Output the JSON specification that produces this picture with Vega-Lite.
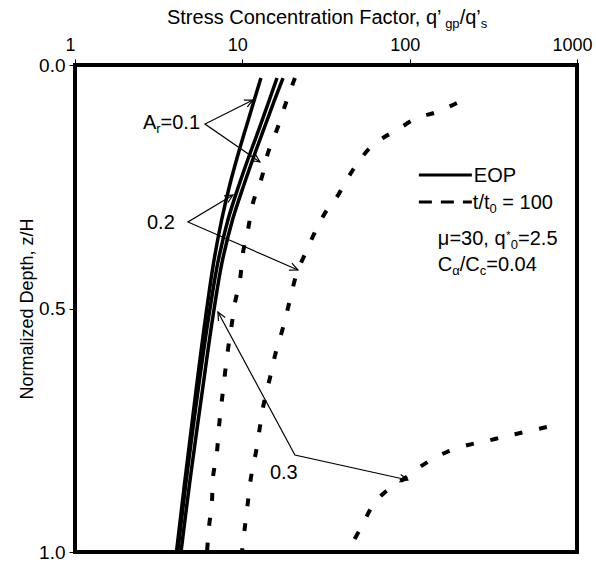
{
  "$schema": "https://vega.github.io/schema/vega-lite/v6.json",
  "width": 502,
  "height": 487,
  "autosize": {"type": "none"},
  "padding": {"left": 75, "top": 65, "right": 19, "bottom": 17},
  "background": "white",
  "config": {
    "font": "Liberation Sans",
    "view": {"stroke": "black", "strokeWidth": 4},
    "axis": {
      "grid": false,
      "domain": false,
      "tickColor": "black",
      "tickWidth": 1,
      "tickSize": 6,
      "labelColor": "black",
      "titleColor": "black",
      "labelFont": "Liberation Sans",
      "titleFont": "Liberation Sans",
      "labelFontSize": 19,
      "titleFontSize": 18,
      "titleFontWeight": "normal"
    }
  },
  "datasets": {
    "eop": [
      {"c": "0.1", "z": 0.0267, "q": 12.91}, {"c": "0.1", "z": 0.078, "q": 11.64}, {"c": "0.1", "z": 0.1273, "q": 10.54},
      {"c": "0.1", "z": 0.1807, "q": 9.48}, {"c": "0.1", "z": 0.2464, "q": 8.41}, {"c": "0.1", "z": 0.3183, "q": 7.52},
      {"c": "0.1", "z": 0.4066, "q": 6.73}, {"c": "0.1", "z": 0.4969, "q": 6.15}, {"c": "0.1", "z": 0.5708, "q": 5.75},
      {"c": "0.1", "z": 0.6612, "q": 5.32}, {"c": "0.1", "z": 0.7433, "q": 4.97}, {"c": "0.1", "z": 0.8665, "q": 4.49},
      {"c": "0.1", "z": 1.0, "q": 4.04},
      {"c": "0.2", "z": 0.0267, "q": 16.11}, {"c": "0.2", "z": 0.078, "q": 14.29}, {"c": "0.2", "z": 0.1273, "q": 12.71},
      {"c": "0.2", "z": 0.1807, "q": 11.14}, {"c": "0.2", "z": 0.2464, "q": 9.55}, {"c": "0.2", "z": 0.3183, "q": 8.2},
      {"c": "0.2", "z": 0.4066, "q": 7.13}, {"c": "0.2", "z": 0.4969, "q": 6.43}, {"c": "0.2", "z": 0.5708, "q": 5.96},
      {"c": "0.2", "z": 0.6612, "q": 5.47}, {"c": "0.2", "z": 0.7433, "q": 5.08}, {"c": "0.2", "z": 0.8665, "q": 4.57},
      {"c": "0.2", "z": 1.0, "q": 4.11},
      {"c": "0.3", "z": 0.0267, "q": 17.5}, {"c": "0.3", "z": 0.078, "q": 15.35}, {"c": "0.3", "z": 0.1273, "q": 13.58},
      {"c": "0.3", "z": 0.1807, "q": 11.91}, {"c": "0.3", "z": 0.2464, "q": 10.21}, {"c": "0.3", "z": 0.3183, "q": 8.73},
      {"c": "0.3", "z": 0.4066, "q": 7.55}, {"c": "0.3", "z": 0.4969, "q": 6.81}, {"c": "0.3", "z": 0.5708, "q": 6.32},
      {"c": "0.3", "z": 0.6612, "q": 5.81}, {"c": "0.3", "z": 0.7433, "q": 5.38}, {"c": "0.3", "z": 0.8665, "q": 4.81},
      {"c": "0.3", "z": 1.0, "q": 4.3}
    ],
    "t100": [
      {"c": "0.1", "z": 0.0267, "q": 20.62}, {"c": "0.1", "z": 0.0719, "q": 18.47}, {"c": "0.1", "z": 0.1273, "q": 16.31},
      {"c": "0.1", "z": 0.1807, "q": 14.22}, {"c": "0.1", "z": 0.23, "q": 13.09}, {"c": "0.1", "z": 0.2834, "q": 11.57},
      {"c": "0.1", "z": 0.3388, "q": 10.8}, {"c": "0.1", "z": 0.386, "q": 10.08}, {"c": "0.1", "z": 0.4415, "q": 9.68},
      {"c": "0.1", "z": 0.4887, "q": 9.03}, {"c": "0.1", "z": 0.5298, "q": 8.67}, {"c": "0.1", "z": 0.5852, "q": 8.2},
      {"c": "0.1", "z": 0.6879, "q": 7.55}, {"c": "0.1", "z": 0.7433, "q": 7.25}, {"c": "0.1", "z": 0.7947, "q": 7.05},
      {"c": "0.1", "z": 0.848, "q": 6.67}, {"c": "0.1", "z": 0.8973, "q": 6.58}, {"c": "0.1", "z": 0.9487, "q": 6.32},
      {"c": "0.1", "z": 1.0, "q": 6.15},
      {"c": "0.2", "z": 0.078, "q": 191.4}, {"c": "0.2", "z": 0.0965, "q": 145.4}, {"c": "0.2", "z": 0.1088, "q": 110.4},
      {"c": "0.2", "z": 0.1335, "q": 83.87}, {"c": "0.2", "z": 0.1499, "q": 69.17}, {"c": "0.2", "z": 0.1704, "q": 57.85},
      {"c": "0.2", "z": 0.1951, "q": 50.41}, {"c": "0.2", "z": 0.2156, "q": 45.78}, {"c": "0.2", "z": 0.2423, "q": 41.02},
      {"c": "0.2", "z": 0.271, "q": 36.74}, {"c": "0.2", "z": 0.2977, "q": 32.02}, {"c": "0.2", "z": 0.3347, "q": 27.9},
      {"c": "0.2", "z": 0.3799, "q": 24.32}, {"c": "0.2", "z": 0.4271, "q": 21.2}, {"c": "0.2", "z": 0.4825, "q": 19.25},
      {"c": "0.2", "z": 0.54, "q": 17.48}, {"c": "0.2", "z": 0.5893, "q": 15.87}, {"c": "0.2", "z": 0.6427, "q": 14.62},
      {"c": "0.2", "z": 0.694, "q": 13.46}, {"c": "0.2", "z": 0.7433, "q": 12.74}, {"c": "0.2", "z": 0.7947, "q": 12.06},
      {"c": "0.2", "z": 0.848, "q": 11.25}, {"c": "0.2", "z": 0.8973, "q": 10.8}, {"c": "0.2", "z": 0.9487, "q": 10.36},
      {"c": "0.2", "z": 1.0, "q": 9.95},
      {"c": "0.3", "z": 0.7433, "q": 660.2}, {"c": "0.3", "z": 0.7536, "q": 487.7}, {"c": "0.3", "z": 0.7618, "q": 380.7},
      {"c": "0.3", "z": 0.7721, "q": 289.2}, {"c": "0.3", "z": 0.7803, "q": 222.7}, {"c": "0.3", "z": 0.7947, "q": 166.9},
      {"c": "0.3", "z": 0.809, "q": 137.6}, {"c": "0.3", "z": 0.8255, "q": 115.1}, {"c": "0.3", "z": 0.8439, "q": 97.54},
      {"c": "0.3", "z": 0.8624, "q": 81.54}, {"c": "0.3", "z": 0.8809, "q": 69.17}, {"c": "0.3", "z": 0.9076, "q": 59.45},
      {"c": "0.3", "z": 0.9425, "q": 52.54}, {"c": "0.3", "z": 0.9836, "q": 45.15}
    ],
    "arrows": [
      {"a": "r1", "k": 1, "q": 11.57, "z": 0.0719}, {"a": "r1", "k": 2, "q": 5.979, "z": 0.1211}, {"a": "r1", "k": 3, "q": 12.74, "z": 0.1992},
      {"a": "r1h1", "k": 1, "q": 10.22, "z": 0.0723}, {"a": "r1h1", "k": 2, "q": 11.57, "z": 0.0719}, {"a": "r1h1", "k": 3, "q": 10.71, "z": 0.0862},
      {"a": "r1h2", "k": 1, "q": 11.97, "z": 0.1832}, {"a": "r1h2", "k": 2, "q": 12.74, "z": 0.1992}, {"a": "r1h2", "k": 3, "q": 11.27, "z": 0.1961},
      {"a": "r2", "k": 1, "q": 8.786, "z": 0.2669}, {"a": "r2", "k": 2, "q": 4.732, "z": 0.3224}, {"a": "r2", "k": 3, "q": 21.49, "z": 0.4209},
      {"a": "r2h1", "k": 1, "q": 7.775, "z": 0.2688}, {"a": "r2h1", "k": 2, "q": 8.786, "z": 0.2669}, {"a": "r2h1", "k": 3, "q": 8.204, "z": 0.2823},
      {"a": "r2h2", "k": 1, "q": 19.78, "z": 0.407}, {"a": "r2h2", "k": 2, "q": 21.49, "z": 0.4209}, {"a": "r2h2", "k": 3, "q": 18.98, "z": 0.4214},
      {"a": "r3", "k": 1, "q": 7.149, "z": 0.5072}, {"a": "r3", "k": 2, "q": 20.62, "z": 0.8008}, {"a": "r3", "k": 3, "q": 97.54, "z": 0.8522},
      {"a": "r3h1", "k": 1, "q": 7.199, "z": 0.5257}, {"a": "r3h1", "k": 2, "q": 7.149, "z": 0.5072}, {"a": "r3h1", "k": 3, "q": 7.894, "z": 0.5183},
      {"a": "r3h2", "k": 1, "q": 88.48, "z": 0.8409}, {"a": "r3h2", "k": 2, "q": 97.54, "z": 0.8522}, {"a": "r3h2", "k": 3, "q": 86.45, "z": 0.8563}
    ],
    "keySolid": [
      {"q": 113.5, "z": 0.2259}, {"q": 235.3, "z": 0.2259}
    ],
    "keyDashed": [
      {"q": 113.5, "z": 0.2813}, {"q": 235.3, "z": 0.2813}
    ],
    "texts": [
      {"t": "Stress Concentration Factor, q’", "q": 3.545, "z": -0.0842},
      {"t": "/q’", "q": 198.9, "z": -0.0842},
      {"t": "A", "q": 2.548, "z": 0.1314},
      {"t": "=0.1", "q": 3.246, "z": 0.1314},
      {"t": "0.2", "q": 2.692, "z": 0.3368},
      {"t": "0.3", "q": 14.62, "z": 0.8501},
      {"t": "EOP", "q": 241.8, "z": 0.2402},
      {"t": "t/t", "q": 238.5, "z": 0.2957},
      {"t": "= 100", "q": 357.9, "z": 0.2957},
      {"t": "μ=30, q", "q": 147.4, "z": 0.3696},
      {"t": "=2.5", "q": 444.3, "z": 0.3696},
      {"t": "C", "q": 147.4, "z": 0.423},
      {"t": "/C", "q": 199.2, "z": 0.423},
      {"t": "=0.04", "q": 286.8, "z": 0.423}
    ],
    "subs": [
      {"t": "gp", "q": 162.9, "z": -0.076},
      {"t": "s", "q": 265.9, "z": -0.076},
      {"t": "r", "q": 3.059, "z": 0.1396},
      {"t": "0", "q": 300.2, "z": 0.3039},
      {"t": "0", "q": 402.3, "z": 0.3778},
      {"t": "α", "q": 179.7, "z": 0.4312},
      {"t": "c", "q": 262.3, "z": 0.4312}
    ],
    "sups": [
      {"t": "*", "q": 378.2, "z": 0.3581}
    ]
  },
  "encoding": {
    "x": {
      "field": "q",
      "type": "quantitative",
      "scale": {"type": "log", "domain": [1, 1000], "nice": false},
      "axis": {"orient": "top", "title": null, "values": [1, 10, 100, 1000], "format": "d", "labelFlush": false, "labelPadding": 5, "labelOffset": -5, "labelFontSize": 18}
    },
    "y": {
      "field": "z",
      "type": "quantitative",
      "scale": {"domain": [0, 1], "reverse": true, "nice": false, "zero": false},
      "axis": {"title": "Normalized Depth, z/H", "values": [0, 0.5, 1], "format": ".1f", "labelPadding": 4, "titlePadding": 2}
    }
  },
  "layer": [
    {
      "data": {"name": "eop"},
      "mark": {"type": "line", "color": "black", "strokeWidth": 3.5, "interpolate": "catmull-rom"},
      "encoding": {"detail": {"field": "c", "type": "nominal"}, "order": {"field": "z", "type": "quantitative"}}
    },
    {
      "data": {"name": "t100"},
      "mark": {"type": "line", "color": "black", "strokeWidth": 4, "strokeDash": [8, 17], "interpolate": "catmull-rom"},
      "encoding": {"detail": {"field": "c", "type": "nominal"}, "order": {"field": "z", "type": "quantitative"}}
    },
    {
      "data": {"name": "arrows"},
      "mark": {"type": "line", "color": "black", "strokeWidth": 1.2},
      "encoding": {"detail": {"field": "a", "type": "nominal"}, "order": {"field": "k", "type": "quantitative"}}
    },
    {
      "data": {"name": "keySolid"},
      "mark": {"type": "line", "color": "black", "strokeWidth": 3},
      "encoding": {}
    },
    {
      "data": {"name": "keyDashed"},
      "mark": {"type": "line", "color": "black", "strokeWidth": 3, "strokeDash": [13, 9]},
      "encoding": {}
    },
    {
      "data": {"name": "texts"},
      "mark": {"type": "text", "align": "left", "baseline": "alphabetic", "fontSize": 20, "color": "black"},
      "encoding": {"text": {"field": "t"}}
    },
    {
      "data": {"name": "subs"},
      "mark": {"type": "text", "align": "left", "baseline": "alphabetic", "fontSize": 13, "color": "black"},
      "encoding": {"text": {"field": "t"}}
    },
    {
      "data": {"name": "sups"},
      "mark": {"type": "text", "align": "left", "baseline": "alphabetic", "fontSize": 11, "color": "black"},
      "encoding": {"text": {"field": "t"}}
    }
  ]
}
